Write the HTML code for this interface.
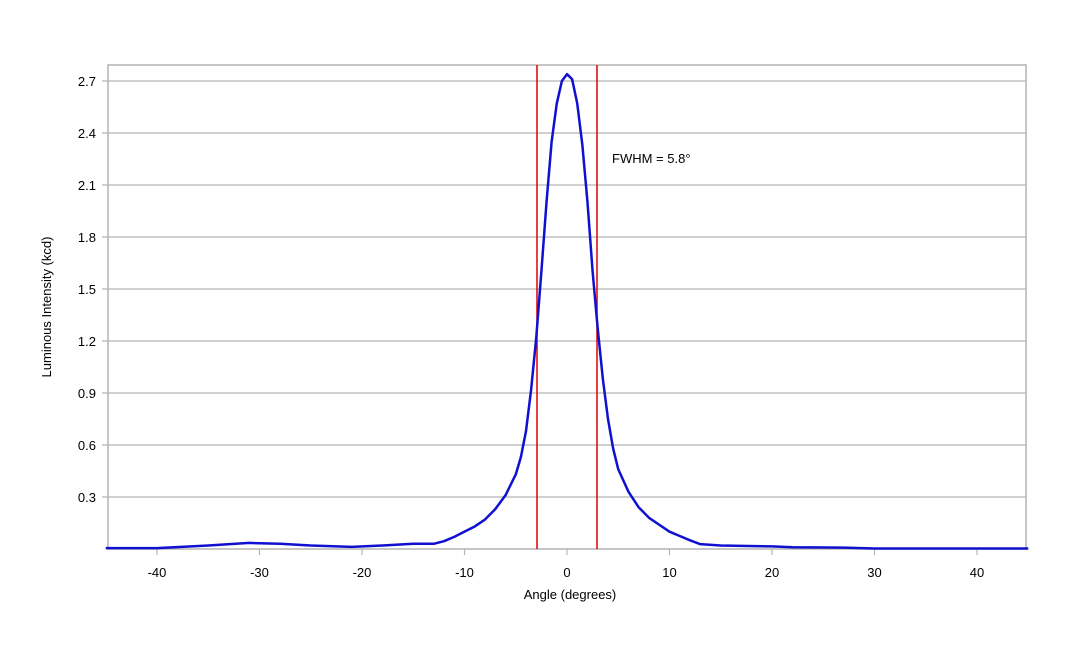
<!DOCTYPE html>
<html><head><meta charset="utf-8"><style>
body{margin:0;background:#fff;}
svg text{font-family:"Liberation Sans",sans-serif;font-size:13px;fill:#000;}
</style></head><body>
<svg width="1080" height="648" xmlns="http://www.w3.org/2000/svg">
<g stroke="#b3b3b3" stroke-width="1.2">
<line x1="102" y1="81" x2="1026" y2="81"/>
<line x1="102" y1="133" x2="1026" y2="133"/>
<line x1="102" y1="185" x2="1026" y2="185"/>
<line x1="102" y1="237" x2="1026" y2="237"/>
<line x1="102" y1="289" x2="1026" y2="289"/>
<line x1="102" y1="341" x2="1026" y2="341"/>
<line x1="102" y1="393" x2="1026" y2="393"/>
<line x1="102" y1="445" x2="1026" y2="445"/>
<line x1="102" y1="497" x2="1026" y2="497"/>
<rect x="108" y="65" width="918" height="484" fill="none" stroke-width="1.5"/>
<line x1="157" y1="549" x2="157" y2="555"/><line x1="259.5" y1="549" x2="259.5" y2="555"/>
<line x1="362" y1="549" x2="362" y2="555"/><line x1="464.5" y1="549" x2="464.5" y2="555"/>
<line x1="567" y1="549" x2="567" y2="555"/><line x1="669.5" y1="549" x2="669.5" y2="555"/>
<line x1="772" y1="549" x2="772" y2="555"/><line x1="874.5" y1="549" x2="874.5" y2="555"/>
<line x1="977" y1="549" x2="977" y2="555"/>
</g>
<g text-anchor="end">
<text x="96" y="86">2.7</text><text x="96" y="138">2.4</text><text x="96" y="190">2.1</text>
<text x="96" y="242">1.8</text><text x="96" y="294">1.5</text><text x="96" y="346">1.2</text>
<text x="96" y="398">0.9</text><text x="96" y="450">0.6</text><text x="96" y="502">0.3</text>
</g>
<g text-anchor="middle">
<text x="157" y="577">-40</text><text x="259.5" y="577">-30</text><text x="362" y="577">-20</text>
<text x="464.5" y="577">-10</text><text x="567" y="577">0</text><text x="669.5" y="577">10</text>
<text x="772" y="577">20</text><text x="874.5" y="577">30</text><text x="977" y="577">40</text>
<text x="570" y="599">Angle (degrees)</text>
<text transform="translate(51,307) rotate(-90)">Luminous Intensity (kcd)</text>
</g>
<text x="612" y="163">FWHM = 5.8°</text>
<line x1="537" y1="65" x2="537" y2="549" stroke="#e00000" stroke-width="1.5"/>
<line x1="597" y1="65" x2="597" y2="549" stroke="#e00000" stroke-width="1.5"/>
<g transform="translate(567,549) scale(10.25,-173.33)">
<polyline fill="none" stroke="#1010d0" stroke-width="2.5" vector-effect="non-scaling-stroke" stroke-linejoin="round"
points="-45,0.005 -40,0.005 -35,0.02 -31,0.035 -28,0.03 -25,0.02 -21,0.012 -18,0.02 -15,0.03 -13,0.03 -12,0.045 -11,0.07 -10,0.1 -9,0.13 -8,0.17 -7,0.23 -6,0.31 -5,0.43 -4.5,0.53 -4,0.68 -3.5,0.92 -3,1.22 -2.5,1.6 -2,2.0 -1.5,2.35 -1,2.57 -0.5,2.7 0,2.74 0.5,2.71 1,2.57 1.5,2.33 2,2.0 2.5,1.6 3,1.27 3.5,0.98 4,0.75 4.5,0.58 5,0.46 6,0.33 7,0.24 8,0.18 9,0.14 10,0.1 11,0.075 12,0.05 13,0.028 15,0.02 20,0.015 22,0.01 27,0.008 30,0.003 45,0.003"/>
</g>
</svg>
</body></html>
